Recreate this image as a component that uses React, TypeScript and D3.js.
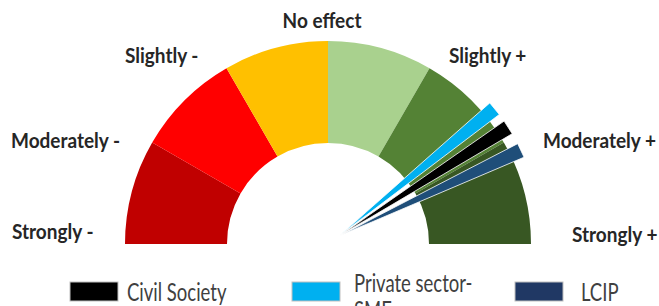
import * as d3 from "d3";

// gauge scale: -3 (strongly negative) .. +3 (strongly positive)
const bands = [-3, -2, -1, 0, 1, 2];
const bandColors = ["#c00000", "#ff0000", "#ffc000", "#a9d18e", "#548235", "#385723"];

const tickValues = [-3, -2, -1, 0, 1, 2, 3];
const tickLabels = ["Strongly -", "Moderately -", "Slightly -", "No effect", "Slightly +", "Moderately +", "Strongly +"];

const groups = ["Private sector-SMEs", "Civil Society", "LCIP"];
const groupValues = [1.69, 1.91, 2.16];
const groupColors = ["#00b0f0", "#000000", "#1f4e79"];

// where each tick label sits (text anchor + screen position)
const labelLayout = [
  { x: 12, y: 239, anchor: "start" },
  { x: 11, y: 148, anchor: "start" },
  { x: 125, y: 63, anchor: "start" },
  { x: 322, y: 28, anchor: "middle" },
  { x: 449, y: 63, anchor: "start" },
  { x: 543, y: 148, anchor: "start" },
  { x: 572, y: 242, anchor: "start" },
];

const legendItems = [
  { name: "Civil Society", color: "#000000", x: 70, tx: 127, lines: ["Civil Society"], y0: 301 },
  { name: "Private sector-SMEs", color: "#00b0f0", x: 292, tx: 354, lines: ["Private sector-", "SMEs"], y0: 292 },
  { name: "LCIP", color: "#203864", x: 515, tx: 581, lines: ["LCIP"], y0: 301 },
];

export default function App() {
  const width = 659;
  const height = 306;
  const cx = 328;
  const cy = 244;
  const outer = 203;
  const inner = 101;
  const pivot = [339, 236];
  const needleLen = 201;
  const needleHalf = 7.5;

  const angle = d3.scaleLinear().domain([-3, 3]).range([-Math.PI / 2, Math.PI / 2]);
  const arc = d3.arc<number>()
    .innerRadius(inner)
    .outerRadius(outer)
    .startAngle((d) => angle(d))
    .endAngle((d) => angle(d + 1));

  const tipEnd = (v: number) => {
    const a = angle(v);
    return [pivot[0] + Math.sin(a) * needleLen, pivot[1] - Math.cos(a) * needleLen];
  };

  const needle = (v: number) => {
    const a = angle(v);
    const px = Math.cos(a), py = Math.sin(a);
    const [ex, ey] = tipEnd(v);
    const p = d3.path();
    p.moveTo(pivot[0], pivot[1]);
    p.lineTo(ex + px * needleHalf, ey + py * needleHalf);
    p.lineTo(ex - px * needleHalf, ey - py * needleHalf);
    p.closePath();
    return p.toString();
  };

  return (
    <svg width={width} height={height} style={{ position: "absolute", left: 0, top: 0, background: "#fff" }}
      fontFamily="Lato, 'Open Sans', sans-serif">
      <defs>
        {groups.map((g, i) => {
          const [ex, ey] = tipEnd(groupValues[i]);
          return (
            <linearGradient key={g} id={`ng${i}`} gradientUnits="userSpaceOnUse"
              x1={pivot[0]} y1={pivot[1]} x2={ex} y2={ey}>
              <stop offset="0" stopColor={groupColors[i]} stopOpacity={0.25} />
              <stop offset="0.18" stopColor={groupColors[i]} stopOpacity={1} />
              <stop offset="1" stopColor={groupColors[i]} stopOpacity={1} />
            </linearGradient>
          );
        })}
      </defs>
      <g transform={`translate(${cx},${cy})`}>
        {bands.map((b, i) => (
          <path key={b} d={arc(b) || ""} fill={bandColors[i]} />
        ))}
      </g>
      <g stroke="#fff" strokeWidth={0.8} strokeLinejoin="miter">
        {groups.map((g, i) => (
          <path key={g} d={needle(groupValues[i])} fill={`url(#ng${i})`} />
        ))}
      </g>
      <g fontWeight="bold" fontSize={19} fill="#262626">
        {tickValues.map((t, i) => (
          <text key={t} textAnchor={labelLayout[i].anchor}
            transform={`translate(${labelLayout[i].x},${labelLayout[i].y}) scale(1,1.05)`}>
            {tickLabels[i]}
          </text>
        ))}
      </g>
      <g fontSize={18.5} fill="#404040">
        {legendItems.map((it) => (
          <g key={it.name}>
            <rect x={it.x} y={282} width={48} height={19} fill={it.color} stroke="#bfbfbf" strokeWidth={1} />
            {it.lines.map((l, j) => (
              <text key={l} transform={`translate(${it.tx},${it.y0 + j * 27}) scale(1,1.3)`}>{l}</text>
            ))}
          </g>
        ))}
      </g>
    </svg>
  );
}
